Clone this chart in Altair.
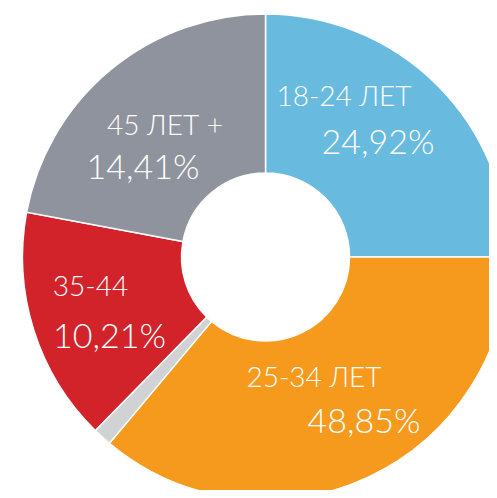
import altair as alt
import pandas as pd

# slices as drawn (angular share, percent of the circle), clockwise from 12 o'clock
groups = ["18-24 ЛЕТ", "25-34 ЛЕТ", "прочие", "35-44", "45 ЛЕТ +"]
shares = [25.0, 36.1, 1.25, 15.6, 22.05]
colors = ["#68BBDF", "#F69A1E", "#D0D2D4", "#D2232B", "#8F939D"]

# label texts
name_labels = ["18-24 ЛЕТ", "25-34 ЛЕТ", "35-44", "45 ЛЕТ +"]
pct_labels = ["24,92%", "48,85%", "10,21%", "14,41%"]
name_x = [344, 314, 90.5, 165]
name_y = [106, 387, 296, 135]
pct_x = [378, 364, 109.5, 143]
pct_y = [154, 433, 348, 179]

W, H = 481, 482
OFF = 8  # page margin

df = pd.DataFrame({"group": groups, "share": shares, "order": list(range(len(groups)))})
names = pd.DataFrame({"t": name_labels, "x": [v - OFF for v in name_x], "y": [v - OFF for v in name_y]})
pcts = pd.DataFrame({"t": pct_labels, "x": [v - OFF for v in pct_x], "y": [v - OFF for v in pct_y]})

cx, cy = 265.5 - OFF, 257 - OFF

donut = alt.Chart(df).mark_arc(
    outerRadius=243, innerRadius=84, stroke="white", strokeWidth=1.5
).encode(
    theta=alt.Theta("share:Q", stack=True),
    order=alt.Order("order:Q"),
    color=alt.Color("group:N", scale=alt.Scale(domain=groups, range=colors), legend=None),
    x=alt.value(cx),
    y=alt.value(cy),
)

xs = alt.Scale(domain=[0, W], range=[0, W])
ys = alt.Scale(domain=[0, H], range=[0, H])

name_text = alt.Chart(names).mark_text(
    font="Lato", fontWeight=300, fontSize=28, color="white", align="center", baseline="alphabetic"
).encode(
    x=alt.X("x:Q", scale=xs, axis=None),
    y=alt.Y("y:Q", scale=ys, axis=None),
    text="t:N",
)

pct_text = alt.Chart(pcts).mark_text(
    font="Lato", fontWeight=300, fontSize=34, color="white", align="center", baseline="alphabetic"
).encode(
    x=alt.X("x:Q", scale=xs, axis=None),
    y=alt.Y("y:Q", scale=ys, axis=None),
    text="t:N",
)

chart = alt.layer(donut, name_text, pct_text).properties(
    width=W, height=H, padding=0, background="white",
    autosize=alt.AutoSizeParams(type="none")
).configure_view(stroke=None)

chart.save("out.html", embed_options={"renderer": "svg", "actions": False})
